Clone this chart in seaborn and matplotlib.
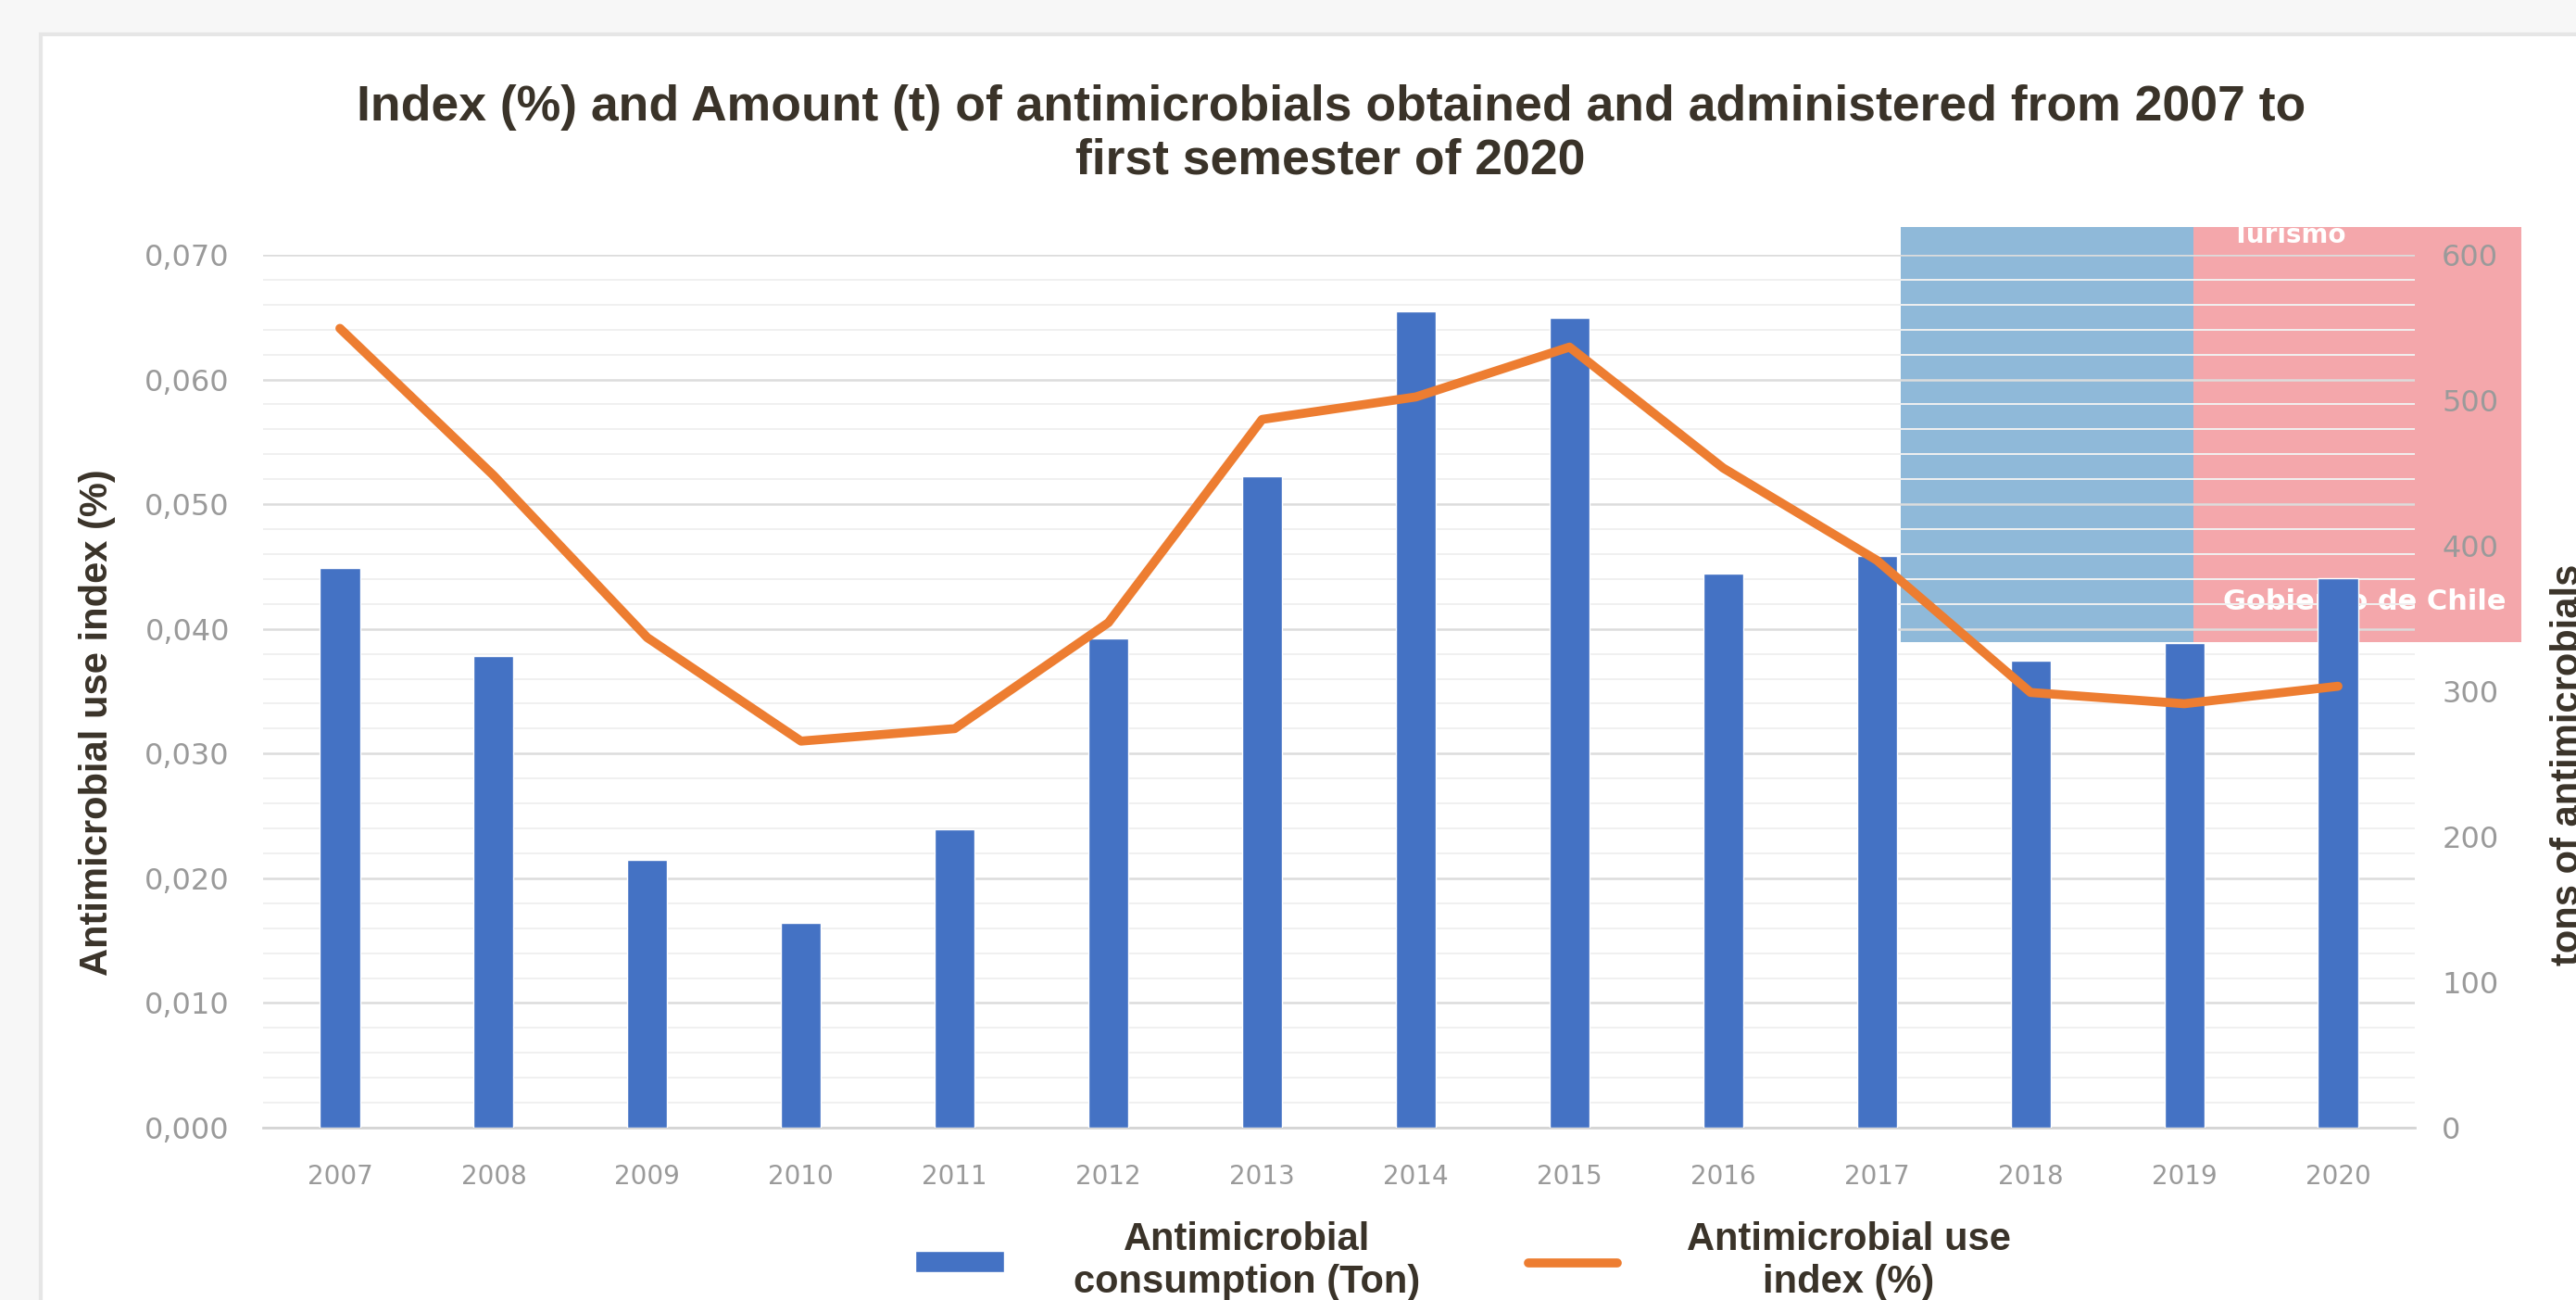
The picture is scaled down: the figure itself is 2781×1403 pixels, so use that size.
import numpy as np
import pandas as pd
import matplotlib.pyplot as plt
import matplotlib.ticker as mticker
from matplotlib.patches import Rectangle
import seaborn as sns

# values
years = ['2007', '2008', '2009', '2010', '2011', '2012', '2013',
         '2014', '2015', '2016', '2017', '2018', '2019', '2020']
tons = [385, 324, 184, 141, 205, 336, 448, 561, 557, 381, 393, 321, 333, 378]
use_index = [0.0641, 0.0523, 0.0393, 0.0310, 0.0320, 0.0405, 0.0568,
             0.0586, 0.0626, 0.0529, 0.0455, 0.0349, 0.0340, 0.0354]

title = ('Index (%) and Amount (t) of antimicrobials obtained and administered from 2007 to\n'
         'first semester of 2020')
bar_label = 'Antimicrobial\nconsumption (Ton)'
line_label = 'Antimicrobial use\nindex (%)'

df = pd.DataFrame({'year': years, 'tons': tons, 'idx': use_index})
df['pos'] = np.arange(len(df))

sns.set_theme(style='white')
plt.rcParams['font.family'] = ['Liberation Sans', 'DejaVu Sans']

blue = '#4472C4'
orange = '#ED7D31'
dark = '#3a3329'
tick_gray = '#9a9a9a'

W, H = 2781, 1403
fig = plt.figure(figsize=(W / 100, H / 100), dpi=100)
fig.patch.set_facecolor('#f7f7f7')

# card background
fig.patches.append(Rectangle((44 / W, -0.1), 1.2, 1.1 - 37 / H, transform=fig.transFigure,
                             facecolor='white', edgecolor='#e6e6e6', lw=3, zorder=-3))
# pasted logo boxes behind the chart
box_b = Rectangle((2052 / W, 1 - 693 / H), (2368 - 2052) / W, (693 - 245) / H,
                  transform=fig.transFigure, facecolor='#8fb9d9', edgecolor='none', zorder=-2)
box_r = Rectangle((2368 / W, 1 - 693 / H), (2722 - 2368) / W, (693 - 245) / H,
                  transform=fig.transFigure, facecolor='#f4a7ab', edgecolor='none', zorder=-2)
fig.patches.extend([box_b, box_r])
fig.text(2400 / W, 1 - 650 / H, 'Gobierno de Chile', color='white', fontsize=22,
         fontweight='bold', family='DejaVu Sans', va='center', ha='left', zorder=-1)
t = fig.text(2410 / W, 1 - 240 / H, 'Turismo', color='white', fontsize=20,
             fontweight='bold', family='DejaVu Sans', va='top', ha='left', zorder=-1)
t.set_clip_path(box_r)

left, right = 284 / W, 2607 / W
top, bottom = 1 - 275 / H, 1 - 1217 / H
ax = fig.add_axes([left, bottom, right - left, top - bottom])
ax.patch.set_visible(False)
axb = ax.twinx()
axl = ax.twinx()

# bars (tons, right axis)
sns.barplot(data=df, x='year', y='tons', ax=axb, color=blue, width=0.26,
            saturation=1, label=bar_label)
axb.set_ylim(0, 600)
axb.set_yticks(np.arange(0, 601, 100))
axb.tick_params(axis='y', length=0, pad=21, labelsize=23, labelcolor=tick_gray)
for lab in axb.get_yticklabels():
    lab.set_family('DejaVu Sans')
axb.set_ylabel('')
axb.set_xlabel('')

# line (index, left scale)
sns.lineplot(data=df, x='pos', y='idx', ax=axl, color=orange, lw=7,
             solid_joinstyle='round', solid_capstyle='round', label=line_label)
axl.set_ylim(0, 0.07)
axl.set_yticks([])
axl.set_ylabel('')
axl.set_xlabel('')

# main axis: left ticks + grid
ax.set_ylim(0, 0.07)
ax.set_xlim(-0.5, len(years) - 0.5)
ax.yaxis.set_major_locator(mticker.MultipleLocator(0.01))
ax.yaxis.set_minor_locator(mticker.MultipleLocator(0.002))
ax.yaxis.set_major_formatter(mticker.FuncFormatter(lambda v, p: f'{v:.3f}'.replace('.', ',')))
ax.grid(which='major', axis='y', color='#dcdcdc', lw=1.8)
ax.grid(which='minor', axis='y', color='#f0f0f0', lw=1.4)
ax.set_axisbelow(True)
ax.tick_params(axis='y', which='both', length=0, pad=26, labelsize=23, labelcolor=tick_gray)
ax.set_xticks(df['pos'])
ax.set_xticklabels(years)
ax.tick_params(axis='x', length=0, pad=28, labelsize=20, labelcolor=tick_gray)
for lab in ax.get_yticklabels() + ax.get_xticklabels():
    lab.set_family('DejaVu Sans')
ax.set_xlabel('')
ax.set_ylabel('')

for a in (ax, axb, axl):
    for s in ('left', 'right', 'top', 'bottom'):
        a.spines[s].set_visible(False)
ax.spines['bottom'].set_visible(True)
ax.spines['bottom'].set_color('#d4d4d4')
ax.spines['bottom'].set_linewidth(2)

# legend
hb, lb = axb.get_legend_handles_labels()
hl, ll = axl.get_legend_handles_labels()
for a in (axb, axl):
    if a.get_legend() is not None:
        a.get_legend().remove()
leg = fig.legend(hb + hl, lb + ll, loc='center', bbox_to_anchor=(0.568, 0.03), ncol=2,
                 frameon=False, prop={'size': 30, 'weight': 'bold'}, handlelength=2.3,
                 handleheight=0.5, handletextpad=1.8, columnspacing=2.8)
for txt in leg.get_texts():
    txt.set_multialignment('center')
    txt.set_color(dark)

# titles and axis labels
fig.text(0.5166, 1 - 145 / H, title, ha='center', va='center', fontsize=38.5,
         fontweight='bold', color=dark, linespacing=1.2)
fig.text(85 / W, 1 - 780 / H, 'Antimicrobial use index (%)', rotation=90, ha='left',
         va='center', fontsize=30, fontweight='bold', color=dark)
fig.text(2753 / W, 1 - 825 / H, 'tons of antimicrobials', rotation=90, ha='left',
         va='center', fontsize=30, fontweight='bold', color=dark)

fig.savefig('out.png', dpi=100, facecolor=fig.get_facecolor())
